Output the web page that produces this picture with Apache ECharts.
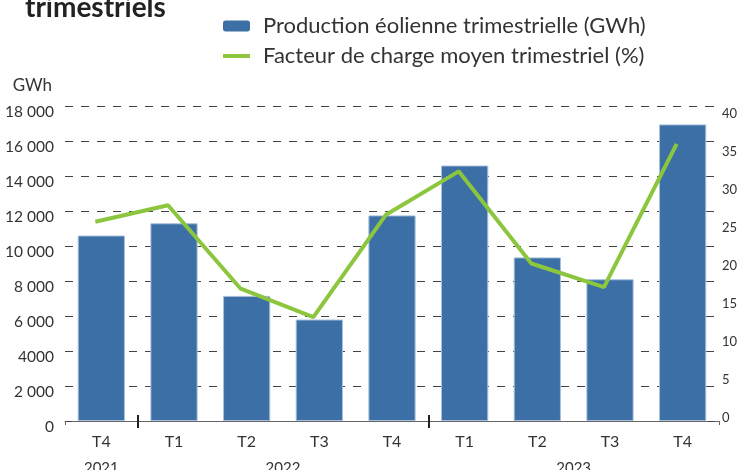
<!DOCTYPE html>
<html>
<head>
<meta charset="utf-8">
<script src="https://cdn.jsdelivr.net/npm/echarts@6/dist/echarts.min.js"></script>
<style>
  html, body { margin: 0; padding: 0; background: #fff; }
  #main { width: 752px; height: 470px; }
</style>
</head>
<body>
<div id="main"></div>
<script>
// données
const quarters = ['T4', 'T1', 'T2', 'T3', 'T4', 'T1', 'T2', 'T3', 'T4'];
const years = ['2021', '2022', '2023'];
const yearSpans = [[0, 0], [1, 4], [5, 8]]; // index des trimestres de chaque année
const production = [10600, 11300, 7150, 5800, 11750, 14600, 9350, 8100, 16950];
const loadFactor = [25.3, 27.4, 16.8, 13.2, 26.2, 31.7, 20.0, 17.0, 35.2];
const gwhTicks = ['0', '2 000', '4000', '6 000', '8 000', '10 000', '12 000', '14 000', '16 000', '18 000'];
const pctTicks = ['0', '5', '10', '15', '20', '25', '30', '35', '40'];

const yearCenters = yearSpans.map(s => (s[0] + s[1] + 1) / 2);
const yearBreaks = yearSpans.slice(1).map(s => s[0]);

const font = 'Lato';
const textColor = '#333';
const barName = 'Production éolienne trimestrielle (GWh)';
const lineName = 'Facteur de charge moyen trimestriel (%)';

const myChart = echarts.init(document.getElementById('main'));
myChart.setOption({
    animation: false,
    textStyle: { fontFamily: font },
    title: {
        text: 'trimestriels',
        left: 20,
        top: -11,
        textStyle: { fontSize: 28, fontWeight: 'bold', color: '#222', fontFamily: font }
    },
    legend: {
        orient: 'vertical',
        left: 218,
        top: 10,
        itemWidth: 27,
        itemHeight: 11,
        itemGap: 8,
        data: [
            { name: barName },
            { name: lineName, icon: 'path://M0 0H27V4H0Z' }
        ],
        itemStyle: { borderWidth: 0 },
        textStyle: { fontSize: 22, color: textColor, padding: [0, 0, 0, 8] }
    },
    grid: [
        { left: 65, right: 33, top: 106, bottom: 49, outerBoundsMode: 'none' },
        { left: 59, right: 39, top: 106, bottom: 49, outerBoundsMode: 'none' },
        // l'échelle en % est un peu plus courte que la grille
        { left: 65, right: 33, top: 114, bottom: 52, outerBoundsMode: 'none' }
    ],
    xAxis: [{
        type: 'category',
        gridIndex: 0,
        data: quarters,
        axisLine: { onZero: false, lineStyle: { color: '#666', width: 1 } },
        axisTick: { show: true, length: 4, interval: function (index) { return index === 0; }, lineStyle: { color: '#666' } },
        axisLabel: { fontSize: 16, color: textColor, margin: 13 }
    }, {
        type: 'value',
        gridIndex: 0,
        position: 'bottom',
        min: 0,
        max: quarters.length,
        axisLine: { show: false, onZero: false },
        splitLine: { show: false },
        axisTick: { show: true, customValues: yearBreaks, length: 7, lineStyle: { color: '#222', width: 2 } },
        axisLabel: {
            customValues: yearCenters,
            fontSize: 15,
            color: textColor,
            margin: 40,
            formatter: function (v) { return years[yearCenters.indexOf(v)]; }
        }
    }, {
        type: 'value',
        gridIndex: 0,
        position: 'bottom',
        min: 0,
        max: quarters.length,
        axisLine: { show: false, onZero: false },
        splitLine: { show: false },
        axisTick: { show: true, inside: true, customValues: yearBreaks, length: 6, lineStyle: { color: '#222', width: 2 } },
        axisLabel: { show: false }
    }, {
        type: 'category',
        gridIndex: 1,
        data: quarters,
        show: false
    }, {
        type: 'category',
        gridIndex: 2,
        data: quarters,
        show: false
    }],
    yAxis: [{
        type: 'value',
        gridIndex: 0,
        min: 0,
        max: 18000,
        interval: 2000,
        name: 'GWh',
        nameLocation: 'end',
        nameGap: 20,
        nameTextStyle: { fontSize: 17, color: textColor, align: 'right', verticalAlign: 'middle', padding: [0, 13, 0, 0] },
        axisLine: { show: false, onZero: false },
        axisTick: { show: true, inside: true, length: 7, lineStyle: { color: '#444' } },
        axisLabel: {
            fontSize: 15.5,
            color: textColor,
            margin: 11,
            verticalAlign: 'top',
            lineHeight: 12,
            formatter: function (v) { return gwhTicks[v / 2000]; }
        },
        splitLine: { show: true, lineStyle: { color: '#444', width: 1, type: [8, 8] } }
    }, {
        type: 'value',
        gridIndex: 2,
        position: 'right',
        min: 0,
        max: 40,
        interval: 5,
        axisLine: { show: false, onZero: false },
        axisTick: { show: false },
        splitLine: { show: false },
        axisLabel: {
            fontSize: 13,
            color: textColor,
            margin: 3,
            formatter: function (v) { return pctTicks[v / 5]; }
        }
    }, {
        // petits traits à droite, alignés sur la grille en GWh
        type: 'value',
        gridIndex: 0,
        position: 'right',
        offset: -5,
        min: 0,
        max: 18000,
        interval: 2000,
        axisLine: { show: false, onZero: false },
        axisTick: { show: true, inside: true, length: 6, lineStyle: { color: '#444' } },
        axisLabel: { show: false },
        splitLine: { show: false }
    }, {
        type: 'value',
        gridIndex: 1,
        min: 0,
        max: 40,
        interval: 5,
        show: false,
        splitLine: { show: false }
    }],
    series: [{
        name: barName,
        type: 'bar',
        xAxisIndex: 0,
        yAxisIndex: 0,
        barWidth: '65%',
        itemStyle: { color: '#3b6fa5', borderColor: '#a8c0dc', borderWidth: 1 },
        data: production
    }, {
        name: lineName,
        type: 'line',
        xAxisIndex: 3,
        yAxisIndex: 3,
        symbol: 'none',
        lineStyle: { color: '#8cc63f', width: 4 },
        itemStyle: { color: '#8cc63f' },
        data: loadFactor
    }]
});
</script>
</body>
</html>
